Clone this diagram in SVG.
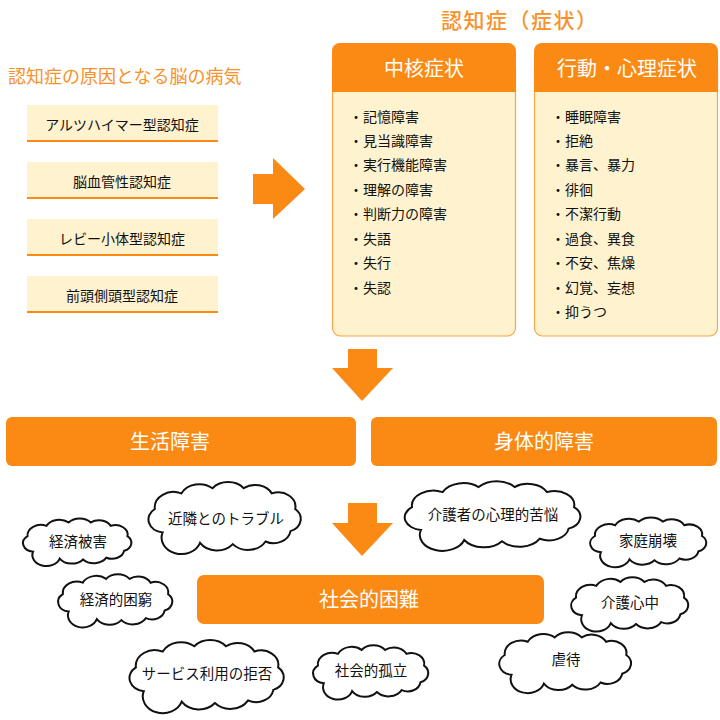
<svg xmlns="http://www.w3.org/2000/svg" xmlns:xlink="http://www.w3.org/1999/xlink" width="720" height="720" viewBox="0 0 720 720">
<style>
text{font-family:"Noto Sans CJK JP","Noto Sans CJK SC",sans-serif;}
.ttl{fill:#F7922A;font-size:18px;}
.ttl2{fill:#F7922A;font-size:21px;letter-spacing:1.5px;font-weight:500;}
.cause{fill:#FFF2CE;}
.cline{fill:#FA8A14;}
.t13{fill:#111;font-size:14px;}
.hdr{fill:#FA8A14;}
.body{fill:#FFF2CE;stroke:#F9A448;stroke-width:1.2;}
.wt{fill:#fff;font-size:20px;}
.org{fill:#FA8A14;}
.cloud{fill:#fff;stroke:#111;stroke-width:2;}
.ct{fill:#111;font-size:14.5px;text-anchor:middle;}
</style>
<defs>
<path id="cl" vector-effect="non-scaling-stroke" d="M10,38 A10,10 0 0 1 5,20 A12,12 0 0 1 22,8 A13,13 0 0 1 42,4 A13,13 0 0 1 62,4 A12,12 0 0 1 80,8 A11,11 0 0 1 95,20 A10,10 0 0 1 92,37 A11,11 0 0 1 76,45 A13,13 0 0 1 55,47 A13,13 0 0 1 34,46 A11,11 0 0 1 10,38 Z"/>
</defs>

<text class="ttl" x="8" y="83">認知症の原因となる脳の病気</text>
<text class="ttl2" x="441" y="28">認知症（症状）</text>

<g id="cause1"><rect class="cause" x="27" y="105" width="191" height="37"/><rect class="cline" x="27" y="140" width="191" height="2"/><text class="t13" x="122" y="130" text-anchor="middle">アルツハイマー型認知症</text></g>
<g id="cause2"><rect class="cause" x="27" y="162" width="191" height="37"/><rect class="cline" x="27" y="197" width="191" height="2"/><text class="t13" x="122" y="187" text-anchor="middle">脳血管性認知症</text></g>
<g id="cause3"><rect class="cause" x="27" y="219" width="191" height="37"/><rect class="cline" x="27" y="254" width="191" height="2"/><text class="t13" x="122" y="244" text-anchor="middle">レビー小体型認知症</text></g>
<g id="cause4"><rect class="cause" x="27" y="276" width="191" height="37"/><rect class="cline" x="27" y="311" width="191" height="2"/><text class="t13" x="122" y="301" text-anchor="middle">前頭側頭型認知症</text></g>

<g id="connectors">
<path class="org" d="M253,174 H273 V158 L305,189 L273,219 V204 H253 Z"/>
<path class="org" d="M348,349 H377 V368 H393 L362,401 L332,368 H348 Z"/>
<path class="org" d="M348,503 H377 V523 H393 L362,556 L332,523 H348 Z"/>
</g>

<g id="core">
<rect class="body" x="332.5" y="60" width="183" height="276" rx="8"/>
<path class="hdr" d="M332,92 V51 A8,8 0 0 1 340,43 H508 A8,8 0 0 1 516,51 V92 Z"/>
<text class="wt" x="424" y="76" text-anchor="middle">中核症状</text>
<g class="t13">
<text x="349" y="122">・記憶障害</text>
<text x="349" y="146">・見当識障害</text>
<text x="349" y="170">・実行機能障害</text>
<text x="349" y="195">・理解の障害</text>
<text x="349" y="219">・判断力の障害</text>
<text x="349" y="244">・失語</text>
<text x="349" y="268">・失行</text>
<text x="349" y="293">・失認</text>
</g>
</g>

<g id="bpsd">
<rect class="body" x="534.5" y="60" width="183" height="276" rx="8"/>
<path class="hdr" d="M534,92 V51 A8,8 0 0 1 542,43 H710 A8,8 0 0 1 718,51 V92 Z"/>
<text class="wt" x="627" y="76" text-anchor="middle">行動・心理症状</text>
<g class="t13">
<text x="551" y="122">・睡眠障害</text>
<text x="551" y="146">・拒絶</text>
<text x="551" y="170">・暴言、暴力</text>
<text x="551" y="195">・徘徊</text>
<text x="551" y="219">・不潔行動</text>
<text x="551" y="244">・過食、異食</text>
<text x="551" y="268">・不安、焦燥</text>
<text x="551" y="293">・幻覚、妄想</text>
<text x="551" y="317">・抑うつ</text>
</g>
</g>

<g id="life"><rect class="org" x="6" y="417" width="350" height="49" rx="6"/><text class="wt" x="170" y="449" text-anchor="middle">生活障害</text></g>
<g id="physical"><rect class="org" x="371" y="417" width="346" height="49" rx="6"/><text class="wt" x="544" y="449" text-anchor="middle">身体的障害</text></g>
<g id="social"><rect class="org" x="197" y="575" width="347" height="49" rx="7"/><text class="wt" x="369" y="607" text-anchor="middle">社会的困難</text></g>

<g id="c1"><use xlink:href="#cl" class="cloud" transform="translate(22,519) scale(1.11,0.86)"/><text class="ct" x="78" y="547">経済被害</text></g>
<g id="c2"><use xlink:href="#cl" class="cloud" transform="translate(147,483) scale(1.56,1.3)"/><text class="ct" x="226" y="524">近隣とのトラブル</text></g>
<g id="c3"><use xlink:href="#cl" class="cloud" transform="translate(57,575) scale(1.17,0.96)"/><text class="ct" x="116" y="605">経済的困窮</text></g>
<g id="c4"><use xlink:href="#cl" class="cloud" transform="translate(128,641) scale(1.58,1.32)"/><text class="ct" x="207" y="679">サービス利用の拒否</text></g>
<g id="c5"><use xlink:href="#cl" class="cloud" transform="translate(312,646) scale(1.18,0.98)"/><text class="ct" x="371" y="676">社会的孤立</text></g>
<g id="c6"><use xlink:href="#cl" class="cloud" transform="translate(403,482) scale(1.8,1.26)"/><text class="ct" x="493" y="520">介護者の心理的苦悩</text></g>
<g id="c7"><use xlink:href="#cl" class="cloud" transform="translate(589,518) scale(1.19,0.9)"/><text class="ct" x="648" y="546">家庭崩壊</text></g>
<g id="c8"><use xlink:href="#cl" class="cloud" transform="translate(570,578) scale(1.2,0.98)"/><text class="ct" x="630" y="608">介護心中</text></g>
<g id="c9"><use xlink:href="#cl" class="cloud" transform="translate(498,633) scale(1.35,1.1)"/><text class="ct" x="566" y="665">虐待</text></g>
</svg>
